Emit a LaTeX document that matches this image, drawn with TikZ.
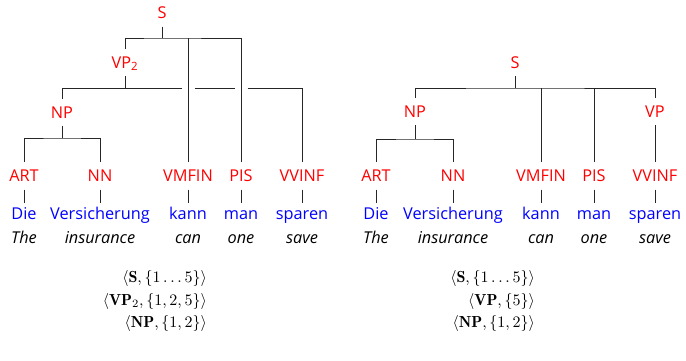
\documentclass[tikz,border=0pt]{standalone}
\usepackage{fontspec}
\newfontfamily\osans{Open Sans}
\usetikzlibrary{calc}
\definecolor{catred}{RGB}{255,0,0}
\definecolor{wordblue}{RGB}{0,0,255}
\begin{document}
\begin{tikzpicture}[x=1pt,y=-1pt,
  cat/.style={font=\osans\fontsize{16.3}{16}\selectfont, text=catred, inner sep=0pt,
    text height=11.5pt, text depth=0pt, outer sep=8pt, anchor=base},
  word/.style={font=\osans\fontsize{16.3}{16}\selectfont, text=wordblue, inner sep=0pt,
    text height=11.5pt, text depth=0pt, outer sep=5pt, anchor=base},
  gloss/.style={font=\osans\itshape\fontsize{16.3}{16}\selectfont, text=black, inner sep=0pt, anchor=base},
  formula/.style={inner sep=0pt, anchor=base east},
  edge/.style={draw, line width=0.9pt, black!85}]
\useasboundingbox (0,0) rectangle (686,360);

% ---------- left tree ----------
\node[cat] (S) at (162,18.5) {S};
\node[cat] (VP2) at (125,68) {VP\textsubscript{2}};
\node[cat] (NP) at (62,118) {NP};
\node[cat] (ART) at (24,181.5) {ART};
\node[cat] (NN) at (100,181.5) {NN};
\node[cat] (VMFIN) at (188,181.5) {VMFIN};
\node[cat] (PIS) at (241,181.5) {PIS};
\node[cat] (VVINF) at (302,181.5) {VVINF};
\node[word] (w1) at (24,219) {Die};
\node[word] (w2) at (100,219) {Versicherung};
\node[word] (w3) at (188,219) {kann};
\node[word] (w4) at (241,219) {man};
\node[word] (w5) at (302,219) {sparen};
\node[gloss] (g1) at (24,243) {The};
\node[gloss] (g2) at (100,243) {insurance};
\node[gloss] (g3) at (188,243) {can};
\node[gloss] (g4) at (241,243) {one};
\node[gloss] (g5) at (302,243) {save};

\coordinate (Sb) at (162,38);
\draw[edge] (S.south) -- (Sb);
\draw[edge] (VP2.north) |- (Sb) -| (PIS.north);
\draw[edge] (VMFIN.north |- Sb) -- (VMFIN.north);
\coordinate (Vb) at (125,88);
\draw[edge] (VP2.south) -- (Vb);
\draw[edge] (NP.north) |- ($(VMFIN.north |- Vb)+(-6.5,0)$);
\draw[edge] ($(VMFIN.north |- Vb)+(6.5,0)$) -- ($(PIS.north |- Vb)+(-6.5,0)$);
\draw[edge] ($(PIS.north |- Vb)+(6.5,0)$) -| (VVINF.north);
\coordinate (Nb) at (62,138);
\draw[edge] (NP.south) -- (Nb);
\draw[edge] (ART.north) |- (Nb) -| (NN.north);
\draw[edge] (ART.south) -- (w1.north);
\draw[edge] (NN.south) -- (w2.north);
\draw[edge] (VMFIN.south) -- (w3.north);
\draw[edge] (PIS.south) -- (w4.north);
\draw[edge] (VVINF.south) -- (w5.north);

% ---------- right tree ----------
\node[cat] (rS) at (515,68) {S};
\node[cat] (rNP) at (415,117) {NP};
\node[cat] (rVP) at (655,117) {VP};
\node[cat] (rART) at (376,181.5) {ART};
\node[cat] (rNN) at (453,181.5) {NN};
\node[cat] (rVMFIN) at (541,181.5) {VMFIN};
\node[cat] (rPIS) at (594,181.5) {PIS};
\node[cat] (rVVINF) at (655,181.5) {VVINF};
\node[word] (rw1) at (376,219) {Die};
\node[word] (rw2) at (453,219) {Versicherung};
\node[word] (rw3) at (541,219) {kann};
\node[word] (rw4) at (594,219) {man};
\node[word] (rw5) at (655,219) {sparen};
\node[gloss] (rg1) at (376,243) {The};
\node[gloss] (rg2) at (453,243) {insurance};
\node[gloss] (rg3) at (541,243) {can};
\node[gloss] (rg4) at (594,243) {one};
\node[gloss] (rg5) at (655,243) {save};

\coordinate (rSb) at (515,88);
\draw[edge] (rS.south) -- (rSb);
\draw[edge] (rNP.north) |- (rSb) -| (rVP.north);
\draw[edge] (rVMFIN.north |- rSb) -- (rVMFIN.north);
\draw[edge] (rPIS.north |- rSb) -- (rPIS.north);
\draw[edge] (rVP.south) -- (rVVINF.north);
\coordinate (rNb) at (415,139);
\draw[edge] (rNP.south) -- (rNb);
\draw[edge] (rART.north) |- (rNb) -| (rNN.north);
\draw[edge] (rART.south) -- (rw1.north);
\draw[edge] (rNN.south) -- (rw2.north);
\draw[edge] (rVMFIN.south) -- (rw3.north);
\draw[edge] (rPIS.south) -- (rw4.north);
\draw[edge] (rVVINF.south) -- (rw5.north);

% ---------- formulas ----------
\node[formula] (f1) at (207,282) {\scalebox{1.6}{$\langle\mathbf{S},\{1\ldots5\}\rangle$}};
\node[formula] (f2) at (207,305) {\scalebox{1.6}{$\langle\mathbf{VP}_2,\{1,2,5\}\rangle$}};
\node[formula] (f3) at (207,327.5) {\scalebox{1.6}{$\langle\mathbf{NP},\{1,2\}\rangle$}};
\node[formula] (f4) at (535,282) {\scalebox{1.6}{$\langle\mathbf{S},\{1\ldots5\}\rangle$}};
\node[formula] (f5) at (535,305) {\scalebox{1.6}{$\langle\mathbf{VP},\{5\}\rangle$}};
\node[formula] (f6) at (535,327.5) {\scalebox{1.6}{$\langle\mathbf{NP},\{1,2\}\rangle$}};
\end{tikzpicture}
\end{document}
